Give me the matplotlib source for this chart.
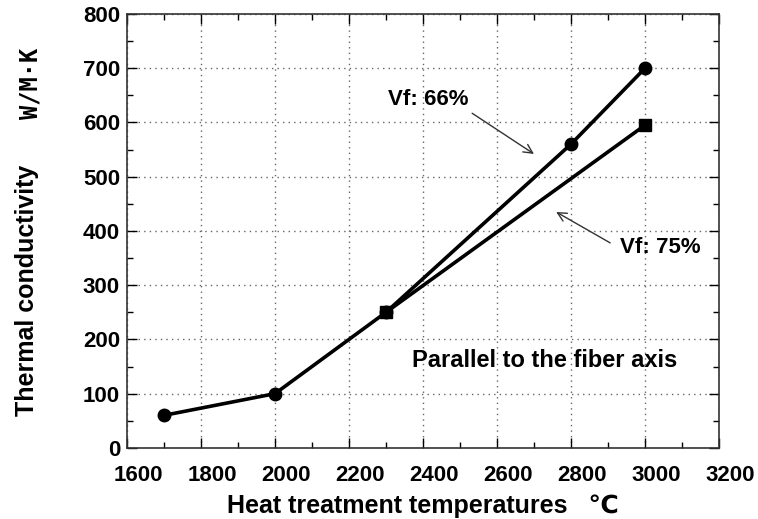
import matplotlib.pyplot as plt
from matplotlib.ticker import MultipleLocator
from matplotlib.transforms import ScaledTranslation

plt.rcParams['font.family'] = ['Liberation Sans', 'DejaVu Sans']
plt.rcParams['font.weight'] = 'bold'

# Vf: 66% series (circles)
temp_66 = [1700, 2000, 2300, 2800, 3000]
cond_66 = [60, 100, 250, 560, 700]
# Vf: 75% series (squares)
temp_75 = [2300, 3000]
cond_75 = [250, 595]

fig = plt.figure(figsize=(7.58, 5.19), dpi=100)
ax = fig.add_axes([0.1675, 0.137, 0.781, 0.836])

ax.plot(temp_66, cond_66, color='black', lw=2.6, marker='o', ms=9, zorder=3)
ax.plot(temp_75, cond_75, color='black', lw=2.6, marker='s', ms=9, zorder=4)

ax.set_xlim(1600, 3200)
ax.set_ylim(0, 800)
ax.xaxis.set_major_locator(MultipleLocator(200))
ax.xaxis.set_minor_locator(MultipleLocator(100))
ax.yaxis.set_major_locator(MultipleLocator(100))
ax.yaxis.set_minor_locator(MultipleLocator(50))
ax.tick_params(which='both', direction='in', top=True, right=True, labelsize=16)
ax.tick_params(which='major', length=7, width=1)
ax.tick_params(which='minor', length=4, width=1)
ax.tick_params(axis='x', pad=12)
ax.tick_params(axis='y', pad=5)
for lbl in ax.get_xticklabels():
    lbl.set_transform(lbl.get_transform() + ScaledTranslation(0.11, 0, fig.dpi_scale_trans))
ax.grid(True, which='major', linestyle=(0, (1, 3)), color='#666666', lw=1)
for s in ax.spines.values():
    s.set_linewidth(1.2)
    s.set_color('#333333')

ax.set_xlabel('Heat treatment temperatures   \u2103', fontsize=18, fontweight='bold')
ax.xaxis.label.set_va('center')
ax.xaxis.set_label_coords(0.50, -0.133)
ax.set_ylabel('Thermal conductivity', fontsize=18, fontweight='bold')
ax.yaxis.label.set_va('center')
ax.yaxis.set_label_coords(-0.169, 0.364)
fig.text(0.040, 0.84, 'W/M\u00b7K', rotation=90, fontsize=17, fontweight='bold',
         ha='center', va='center', family='DejaVu Sans Mono')

ax.text(2305, 642, 'Vf: 66%', fontsize=16, fontweight='bold', ha='left', va='center')
ax.annotate('', xy=(2700, 542), xytext=(2533, 617),
            arrowprops=dict(arrowstyle='->', color='#333333', lw=1, shrinkA=0, shrinkB=0,
                            mutation_scale=16))
ax.text(2933, 370, 'Vf: 75%', fontsize=16, fontweight='bold', ha='left', va='center')
ax.annotate('', xy=(2760, 435), xytext=(2906, 378),
            arrowprops=dict(arrowstyle='->', color='#333333', lw=1, shrinkA=0, shrinkB=0,
                            mutation_scale=16))
ax.text(2370, 162, 'Parallel to the fiber axis', fontsize=17, fontweight='bold',
        ha='left', va='center')

fig.savefig('out.png', dpi=100)
